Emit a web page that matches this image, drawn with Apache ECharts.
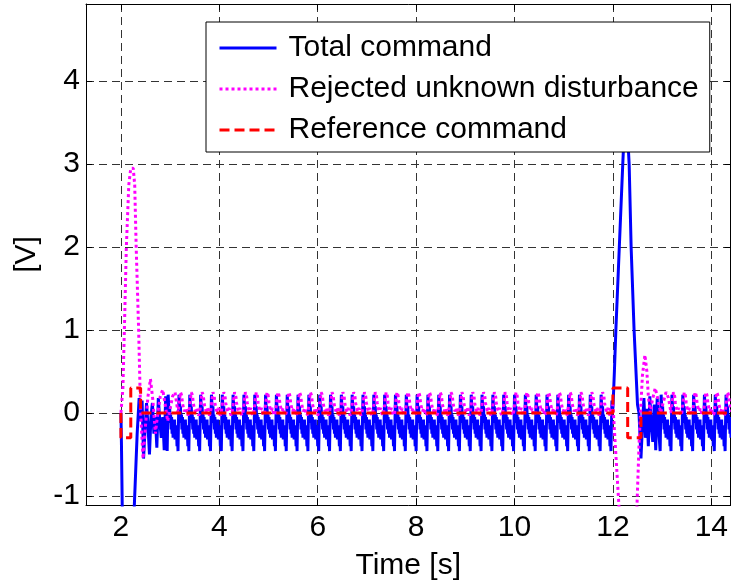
<!DOCTYPE html>
<html>
<head>
<meta charset="utf-8">
<script src="https://cdn.jsdelivr.net/npm/echarts@6/dist/echarts.min.js"></script>
<style>
  html, body { margin: 0; padding: 0; background: #fff; }
  #chart { width: 731px; height: 587px; }
</style>
</head>
<body>
<div id="chart"></div>
<script>
// one steady cycle of the oscillation (period 0.22 s, samples every 0.01 s)
const period = 0.22;
const step = 0.01;
const blueCycle = [-0.46, -0.1, 0.22, 0.1, -0.05, 0.08, -0.12, -0.02, -0.2, -0.05, -0.25,
  -0.1, -0.3, -0.12, -0.28, -0.08, -0.32, -0.15, -0.3, -0.2, -0.4, -0.25];
const pinkCycle = [0.0, 0.05, 0.1, 0.16, 0.2, 0.25, 0.27, 0.22, 0.18, 0.12, 0.1,
  0.06, 0.04, 0.02, 0.0, 0.04, 0.06, 0.03, 0.0, -0.02, -0.03, -0.01];

// transients [t, V]
const blueStart = [[2.0, 0], [2.01, -0.35], [2.03, -1.3], [2.14, -2.6], [2.26, -1.3], [2.3, -0.7],
  [2.33, -0.25], [2.37, 0.18], [2.4, -0.1], [2.43, 0.15], [2.46, -0.55], [2.49, -0.2], [2.52, 0.12],
  [2.55, -0.15], [2.58, -0.5], [2.61, -0.05], [2.64, 0.12], [2.67, -0.25], [2.7, -0.05], [2.73, -0.42],
  [2.76, 0.18], [2.79, -0.1], [2.82, -0.3], [2.85, -0.05], [2.88, -0.45], [2.91, 0.2]];
const blueKick = [[11.96, -0.46], [11.98, 0.15], [12.0, 0.05], [12.03, 0.5], [12.06, 1.0], [12.13, 2.0],
  [12.2, 3.0], [12.26, 3.8], [12.33, 3.0], [12.37, 2.0], [12.43, 1.0], [12.5, 0.1], [12.53, 0.0],
  [12.57, -0.55], [12.6, -0.15], [12.63, 0.18], [12.66, -0.3], [12.69, 0.05], [12.72, -0.4],
  [12.75, 0.2], [12.78, -0.15], [12.81, -0.35], [12.84, 0.1], [12.87, -0.45], [12.9, 0.18], [12.93, -0.2]];
const pinkStart = [[2.0, 0.0], [2.04, 0.3], [2.07, 1.0], [2.11, 2.0], [2.16, 2.75], [2.2, 2.95],
  [2.25, 2.95], [2.28, 2.75], [2.31, 2.0], [2.36, 1.0], [2.4, 0.0], [2.45, -0.55], [2.5, -0.15],
  [2.55, 0.2], [2.6, 0.41], [2.65, 0.15], [2.7, -0.25], [2.75, 0.0], [2.8, 0.2], [2.85, 0.28],
  [2.9, 0.1], [2.95, -0.1], [3.0, 0.05], [3.05, 0.2], [3.1, 0.25]];
const pinkKick = [[11.96, 0.05], [12.0, 0.1], [12.03, -0.2], [12.08, -0.7], [12.13, -1.2], [12.2, -2.2],
  [12.28, -2.95], [12.36, -2.95], [12.43, -2.2], [12.49, -1.1], [12.53, -0.4], [12.56, 0.0],
  [12.6, 0.45], [12.65, 0.7], [12.69, 0.5], [12.72, 0.2], [12.76, 0.0], [12.8, 0.15], [12.86, 0.3],
  [12.92, 0.15], [12.97, 0.0], [13.02, 0.12], [13.08, 0.25], [13.13, 0.18]];
const refCmd = [[2.0, 0], [2.0, -0.3], [2.2, -0.3], [2.2, 0.3], [2.4, 0.3], [2.4, 0], [12.0, 0],
  [12.0, 0.3], [12.3, 0.3], [12.3, -0.3], [12.57, -0.3], [12.57, 0], [14.5, 0]];

const xTicks = ['2', '4', '6', '8', '10', '12', '14'];
const yTicks = ['-1', '0', '1', '2', '3', '4'];

// repeat a read cycle n times starting at t0
function tile(cycle, t0, n) {
  const out = [];
  for (let k = 0; k < n; k++) {
    cycle.forEach((v, i) => out.push([+(t0 + k * period + i * step).toFixed(3), v]));
  }
  return out;
}

const blueData = blueStart.concat(tile(blueCycle, 2.94, 41), blueKick, tile(blueCycle, 12.96, 7));
const pinkData = pinkStart.concat(tile(pinkCycle, 3.16, 40), pinkKick, tile(pinkCycle, 13.18, 6));

const font = '"Liberation Sans", Arial, sans-serif';
const gridStyle = { color: '#333', width: 1, type: [8, 5] };
const xMin = 1.29, xMax = 14.39, yMin = -1.11, yMax = 4.93;

const boxAxis = {
  axisLine: { show: true, onZero: false, lineStyle: { color: '#000', width: 1 } },
  axisTick: { show: true, inside: true, length: 6, lineStyle: { color: '#000' } }
};

const chart = echarts.init(document.getElementById('chart'));
chart.setOption({
  animation: false,
  backgroundColor: '#fff',
  textStyle: { fontFamily: font },
  grid: { left: 86, top: 4, width: 647, height: 501, containLabel: false },
  legend: {
    orient: 'vertical',
    left: 206,
    top: 22,
    padding: [11, 11, 7, 12],
    itemGap: 11,
    itemWidth: 57,
    itemHeight: 14,
    backgroundColor: '#fff',
    borderColor: '#000',
    borderWidth: 1,
    borderRadius: 0,
    z: 10,
    itemStyle: { opacity: 0 },
    lineStyle: { width: 3 },
    textStyle: { fontFamily: font, fontSize: 30, color: '#000', lineHeight: 30, padding: [0, 0, 0, 7] },
    data: ['Total command', 'Rejected unknown disturbance', 'Reference command']
  },
  xAxis: [{
    type: 'value', min: xMin, max: xMax, minInterval: 2, maxInterval: 2, splitNumber: 7,
    name: 'Time [s]', nameLocation: 'middle', nameGap: 46,
    nameTextStyle: { fontSize: 30, color: '#000', fontFamily: font },
    ...boxAxis,
    axisLabel: {
      fontSize: 30, color: '#000', margin: 8, showMinLabel: false, showMaxLabel: false,
      formatter: v => xTicks.includes(String(v)) ? String(v) : ''
    },
    splitLine: { show: true, lineStyle: gridStyle }
  }, {
    type: 'value', position: 'top', min: xMin, max: xMax, minInterval: 2, maxInterval: 2, splitNumber: 7,
    ...boxAxis, axisLabel: { show: false }, splitLine: { show: false }
  }],
  yAxis: [{
    type: 'value', min: yMin, max: yMax, minInterval: 1, maxInterval: 1, splitNumber: 6,
    name: '[V]', nameLocation: 'middle', nameGap: 44,
    nameTextStyle: { fontSize: 30, color: '#000', fontFamily: font },
    ...boxAxis,
    axisLabel: {
      fontSize: 30, color: '#000', margin: 6, showMinLabel: false, showMaxLabel: false,
      formatter: v => yTicks.includes(String(v)) ? String(v) : ''
    },
    splitLine: { show: true, lineStyle: gridStyle }
  }, {
    type: 'value', position: 'right', min: yMin, max: yMax, minInterval: 1, maxInterval: 1, splitNumber: 6,
    ...boxAxis, axisLabel: { show: false }, splitLine: { show: false }
  }],
  series: [{
    name: 'Total command', type: 'line', data: blueData, symbol: 'none', clip: true,
    lineStyle: { color: '#0000ff', width: 3 }, itemStyle: { color: '#0000ff' }
  }, {
    name: 'Rejected unknown disturbance', type: 'line', data: pinkData, symbol: 'none', clip: true,
    lineStyle: { color: '#ff00ff', width: 3, type: [3, 3] }, itemStyle: { color: '#ff00ff' }
  }, {
    name: 'Reference command', type: 'line', data: refCmd, symbol: 'none', clip: true,
    lineStyle: { color: '#ff0000', width: 3, type: [10, 5] }, itemStyle: { color: '#ff0000' }
  }]
});
</script>
</body>
</html>
